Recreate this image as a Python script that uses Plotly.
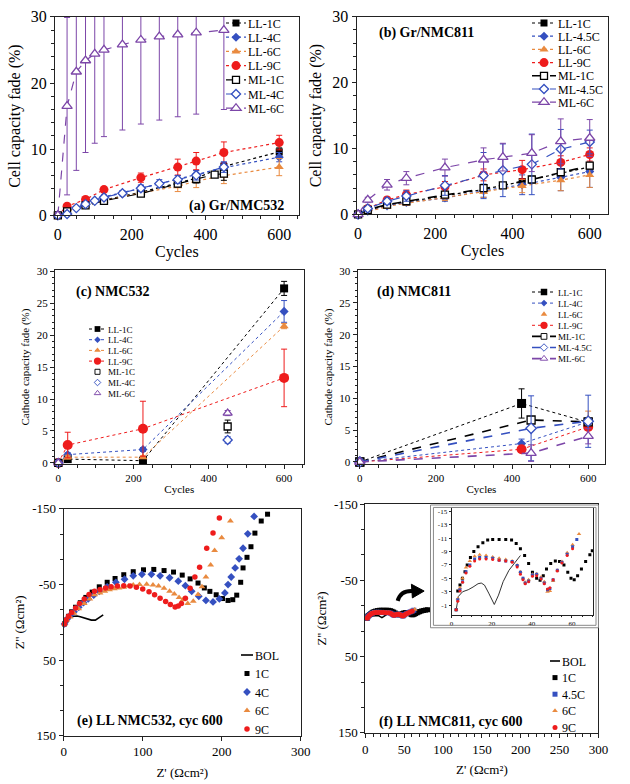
import plotly.graph_objects as go

W, H = 630, 784
SERIF = "Liberation Serif"

BLACK = "#000000"
BLUE = "#3550c0"
ORANGE = "#e98a3f"
RED = "#ee1c1c"
PURPLE = "#7c46a8"

# ---------------- (a) Gr/NMC532 : cell capacity fade (%) ----------------
a_cyc_LL = [0, 25, 75, 125, 225, 325, 375, 450, 600]
a_LL_1C = [0, 0.7, 1.6, 2.3, 3.5, 4.9, 5.6, 7.4, 9.6]
a_LL_1C_err = [0, 0.2, 0.2, 0.3, 0.4, 0.5, 0.5, 0.6, 0.6]
a_LL_4C = [0, 0.8, 1.7, 2.8, 4.1, 5.5, 6.2, 7.2, 8.8]
a_LL_4C_err = [0, 0.2, 0.2, 0.3, 0.4, 0.5, 0.6, 0.8, 0.7]
a_LL_6C = [0, 0.6, 1.5, 2.2, 3.4, 4.4, 5.2, 6.0, 7.3]
a_LL_6C_err = [0, 0.2, 0.2, 0.3, 0.5, 0.8, 1.0, 1.2, 1.3]
a_LL_9C = [0, 1.4, 2.4, 3.9, 5.7, 7.3, 8.2, 9.5, 11.0]
a_LL_9C_err = [0, 0.3, 0.3, 0.4, 0.7, 1.2, 1.3, 1.6, 1.1]
a_cyc_ML1 = [0, 25, 75, 125, 225, 325, 375, 425, 450]
a_ML_1C = [0, 0.6, 1.5, 2.2, 3.3, 4.8, 5.5, 6.15, 6.3]
a_ML_1C_err = [0, 0.1, 0.2, 0.2, 0.4, 0.5, 0.6, 0.3, 1.0]
a_cyc_ML = [0, 25, 50, 75, 100, 125, 175, 225, 275, 325, 375, 450]
a_ML_4C = [0, 0.2, 1.1, 1.7, 2.2, 2.7, 3.35, 4.1, 4.8, 5.4, 6.05, 7.3]
a_ML_4C_err = [0, 0.1, 0.2, 0.2, 0.2, 0.3, 0.4, 0.5, 0.6, 0.6, 0.7, 0.8]
a_ML_6C = [0, 16.5, 21.7, 23.4, 24.4, 25.0, 25.8, 26.5, 27.0, 27.3, 27.6, 28.0]
a_ML_6C_err = [0, 13.4, 14.9, 13.9, 13.5, 13.1, 12.9, 12.7, 12.6, 12.4, 12.3, 12.0]

# ---------------- (b) Gr/NMC811 : cell capacity fade (%) ----------------
b_cyc_LL = [0, 25, 75, 125, 225, 325, 425, 525, 600]
b_LL_1C = [0, 0.6, 1.4, 1.9, 2.9, 3.8, 5.0, 6.2, 7.2]
b_LL_1C_err = [0, 0.1, 0.2, 0.2, 0.3, 0.4, 0.4, 0.5, 0.6]
b_LL_45C = [0, 0.5, 1.3, 1.8, 2.5, 3.6, 4.5, 5.6, 6.5]
b_LL_45C_err = [0, 0.2, 0.3, 0.4, 0.5, 1.0, 1.5, 2.0, 2.4]
b_LL_6C = [0, 0.4, 1.2, 1.7, 2.6, 3.4, 4.3, 5.2, 6.0]
b_LL_6C_err = [0, 0.2, 0.3, 0.3, 0.5, 0.8, 1.0, 1.6, 1.9]
b_LL_9C = [0, 0.9, 2.2, 3.0, 4.2, 6.0, 6.8, 7.9, 9.1]
b_LL_9C_err = [0, 0.2, 0.4, 0.7, 0.8, 0.9, 1.4, 1.0, 1.0]
b_cyc_ML = [0, 25, 75, 125, 225, 325, 375, 450, 525, 600]
b_ML_1C = [0, 0.7, 1.5, 2.0, 3.0, 4.0, 4.4, 5.3, 6.4, 7.4]
b_ML_1C_err = [0, 0.1, 0.2, 0.2, 0.3, 0.4, 0.4, 0.5, 0.5, 0.5]
b_ML_45C = [0, 0.9, 2.0, 2.8, 4.4, 5.9, 6.7, 7.6, 9.9, 11.0]
b_ML_45C_err = [0, 0.3, 0.5, 0.8, 1.5, 3.5, 4.0, 4.6, 3.0, 1.8]
b_ML_6C = [0, 2.2, 4.5, 5.5, 7.1, 8.3, 8.7, 9.3, 11.1, 11.6]
b_ML_6C_err = [0, 0.4, 0.8, 1.0, 1.3, 1.8, 2.1, 2.8, 3.4, 2.8]

# ---------------- (c) NMC532 : cathode capacity fade (%) ----------------
c_cyc_LL = [0, 25, 225, 600]
c_LL_1C = [0, 0.6, 0.35, 27.3]
c_LL_1C_err = [0, 0.2, 0.1, 1.1]
c_LL_4C = [0, 1.3, 2.1, 23.7]
c_LL_4C_err = [0, 0.3, 0.3, 1.7]
c_LL_6C = [0, 0.9, 0.9, 21.4]
c_LL_6C_err = [0, 0.3, 0.2, 0.4]
c_LL_9C = [0, 2.8, 5.35, 13.3]
c_LL_9C_err = [0, 2.0, 4.3, 4.5]
c_cyc_ML = [0, 450]
c_ML_1C = [0, 5.7]
c_ML_1C_err = [0, 1.0]
c_ML_4C = [0, 3.6]
c_ML_4C_err = [0, 0.5]
c_ML_6C = [0, 7.8]
c_ML_6C_err = [0, 0.4]

# ---------------- (d) NMC811 : cathode capacity fade (%) ----------------
d_cyc_LL = [0, 425, 600]
d_LL_1C = [0, 9.2, 6.25]
d_LL_1C_err = [0, 2.3, 0.5]
d_LL_4C = [0, 2.9, 6.3]
d_LL_4C_err = [0, 0.7, 0.6]
d_cyc_LL6 = [0, 600]
d_LL_6C = [0, 6.8]
d_LL_6C_err = [0, 1.2]
d_LL_9C = [0, 2.0, 5.5]
d_LL_9C_err = [0, 0.3, 0.4]
d_cyc_ML = [0, 450, 600]
d_ML_1C = [0, 6.6, 6.3]
d_ML_1C_err = [0, 0.3, 0.3]
d_ML_45C = [0, 5.3, 6.4]
d_ML_45C_err = [0, 5.1, 4.1]
d_ML_6C = [0, 1.4, 4.05]
d_ML_6C_err = [0, 1.3, 1.2]

# ---------------- (e) LL NMC532, cyc 600 : Nyquist ----------------
e_BOL_re = [1, 3, 6, 9, 13, 17, 21, 26, 31, 35, 40, 44, 47, 50]
e_BOL_im = [2, -2, -5, -7, -8, -8.5, -7.5, -6, -4, -3, -3, -5.5, -8, -10]
e_1C_re = [1, 3, 6, 10, 15, 21, 28, 36, 45, 55, 65, 76, 88, 101, 114, 127, 139,
           150, 160, 170, 178, 185, 193, 201, 208, 214, 219, 224, 227, 232, 237,
           242, 250, 258]
e_1C_im = [2, -3, -8, -14, -20, -26, -33, -40, -47, -53, -58, -63, -67, -69.5, -70,
           -68.5, -66.5, -62.5, -57.5, -52, -45.5, -41, -36.5, -31.5, -29, -30, -36,
           -53, -72, -86, -100, -118, -134, -143]
e_4C_re = [1, 4, 8, 13, 19, 25, 31, 38, 45, 55, 66, 77, 88, 99, 111, 122, 134, 145,
           154, 162, 171, 180, 189, 197, 204, 208, 212, 217, 222, 227, 233, 241]
e_4C_im = [2, -4, -9, -14, -20, -26, -31, -36, -41, -47, -53, -57, -61.5, -63.5,
           -63.5, -61.5, -59, -54.5, -48.5, -41, -34.5, -29, -27, -31, -39, -50, -60,
           -72, -84, -98, -117, -140]
e_6C_re = [1, 4, 8, 13, 19, 26, 33, 39, 46, 52, 58, 64, 70, 76, 82, 88, 96, 105, 113,
           120, 127, 134, 140, 146, 151, 157, 164, 170, 175, 180, 186, 191, 200, 211]
e_6C_im = [2, -3, -7, -12, -18, -25, -31, -36.5, -39, -41, -43, -44.5, -45.5, -46.5,
           -48, -49.5, -50, -50.5, -49.5, -48, -45, -41, -37.5, -33, -30, -25, -28,
           -37, -47, -60, -76, -95, -112, -134]
e_9C_re = [1, 3, 6, 10, 15, 20, 26, 32, 39, 46, 53, 60, 68, 76, 84, 92, 100, 108,
           115, 122, 129, 135, 141, 145, 149, 154, 160, 166, 172, 181, 189, 197]
e_9C_im = [2, -3, -8, -13, -19, -25, -31, -37, -41, -43.5, -45.5, -47, -48, -48.3,
           -48, -46.5, -44, -40.5, -36.5, -32, -27.5, -23.5, -20.5, -21.5, -25, -32,
           -45, -60, -73, -98, -118, -138]

# ---------------- (f) LL NMC811, cyc 600 : Nyquist ----------------
f_BOL_re = [2.3, 3.4, 5.5, 8.3, 10.7, 13.2, 14.8, 16.4, 18.5, 21.3, 23.4, 25.7, 28.6,
            31.5, 34.3]
f_BOL_im = [-0.3, -2.3, -3.0, -3.3, -3.7, -4.2, -4.3, -4.0, -2.8, -1.1, -2.5, -4.5,
            -6.2, -7.4, -8.4]
f_1C_re = [2.3, 3.1, 4.2, 5.4, 6.7, 7.8, 9.4, 11.1, 13.2, 15.6, 18.0, 20.5, 23.7, 27.0,
           29.9, 32.2, 34.3, 36.4, 38.4, 40.3, 42.4, 44.1, 45.7, 47.3, 49.4, 51.7, 53.8,
           56.0, 57.9, 59.5, 61.1, 62.8, 64.7, 66.8, 68.9, 70.1, 72.5, 75.0, 77.5, 80.0]
f_1C_im = [-0.3, -3.1, -4.0, -5.0, -6.0, -7.0, -8.1, -9.0, -9.7, -10.3, -10.7, -10.8,
           -10.8, -10.8, -10.7, -10.2, -9.4, -8.4, -7.2, -5.9, -5.0, -4.7, -5.4, -6.4,
           -7.2, -7.6, -7.5, -7.0, -5.9, -5.0, -4.8, -5.4, -6.4, -7.5, -8.5, -9.1, -9.9,
           -10.5, -11.0, -11.4]
f_45C_re = [2.3, 3.1, 4.2, 5.5, 7.2, 9.1, 11.5, 14.0, 17.2, 20.5, 23.7, 27.0, 30.2,
            32.7, 34.3, 35.6, 36.7, 38.4, 40.3, 42.4, 44.6, 46.2, 47.8, 49.0, 50.6,
            52.7, 55.0, 57.6, 60.3, 62.4]
f_45C_im = [-0.3, -1.8, -3.3, -4.5, -6.0, -7.0, -7.9, -8.1, -8.1, -8.0, -7.7, -7.6,
            -7.5, -6.9, -5.9, -5.0, -4.3, -4.6, -5.5, -5.6, -5.0, -4.3, -3.3, -3.5,
            -4.8, -6.2, -7.4, -8.6, -9.7, -10.8]
f_6C_re = [2.3, 3.1, 4.2, 5.5, 7.2, 9.1, 11.5, 14.0, 17.2, 20.5, 23.7, 27.0, 30.2,
           32.7, 34.3, 35.6, 36.7, 38.4, 40.3, 42.4, 44.6, 46.2, 47.8, 49.0, 50.6,
           52.7, 55.0, 57.6, 60.3, 63.5]
f_6C_im = [-0.3, -2.0, -3.6, -5.0, -6.6, -7.6, -8.3, -8.5, -8.4, -8.2, -8.0, -7.8,
           -7.6, -7.0, -6.0, -5.0, -4.4, -4.8, -5.6, -5.7, -5.2, -4.5, -3.0, -3.1,
           -4.6, -6.2, -7.5, -8.8, -10.0, -11.6]
f_9C_re = [2.3, 3.1, 4.2, 5.5, 7.2, 9.1, 11.5, 14.0, 17.2, 20.5, 23.7, 27.0, 30.2,
           32.7, 34.3, 35.6, 36.7, 38.4, 40.3, 42.4, 44.6, 46.2, 47.8, 49.0, 50.6,
           52.7, 55.0, 57.6, 60.3]
f_9C_im = [-0.3, -1.6, -3.1, -4.4, -5.8, -6.8, -7.6, -7.9, -7.9, -7.8, -7.7, -7.6,
           -7.4, -6.7, -5.6, -4.8, -4.2, -4.5, -5.3, -5.4, -4.9, -4.2, -3.4, -3.6,
           -4.8, -6.1, -7.3, -8.4, -9.4]

# tick labels
nyq_y_ticks = [-150, -50, 50, 150]
nyq_y_text = ["-150", "-50", "50", "150"]
inset_y_ticks = [-15, -13, -11, -9, -7, -5, -3, -1]
inset_y_text = ["-15", "-13", "-11", "-9", "-7", "-5", "-3", "-1"]

fig = go.Figure()


def px_x(px):
    return px / W


def px_y(py):
    return 1 - py / H


def add(n, x, y, name, color, symbol, size, dash=None, err=None, legend="legend",
        open_=False, mode="lines+markers", lw=1.2, clip=False, showlegend=True):
    ax = "" if n == 1 else str(n)
    marker = dict(symbol=symbol, size=size,
                  color="white" if open_ else color,
                  line=dict(color=color, width=1.3 if open_ else 0))
    kw = dict(x=x, y=y, name=name, mode=mode, marker=marker,
              line=dict(color=color, dash=dash, width=lw),
              xaxis="x" + ax, yaxis="y" + ax, legend=legend,
              showlegend=showlegend, cliponaxis=clip)
    if err is not None:
        kw["error_y"] = dict(type="data", array=err, color=color, thickness=1,
                             width=3, visible=True)
    fig.add_trace(go.Scatter(**kw))


# (a)
add(1, a_cyc_LL, a_LL_1C, "LL-1C", BLACK, "square", 7, "dot", a_LL_1C_err)
add(1, a_cyc_LL, a_LL_4C, "LL-4C", BLUE, "diamond", 7, "dot", a_LL_4C_err)
add(1, a_cyc_LL, a_LL_6C, "LL-6C", ORANGE, "triangle-up", 8, "dot", a_LL_6C_err)
add(1, a_cyc_LL, a_LL_9C, "LL-9C", RED, "circle", 9, "dot", a_LL_9C_err)
add(1, a_cyc_ML1, a_ML_1C, "ML-1C", BLACK, "square", 7, "dash", a_ML_1C_err, open_=True)
add(1, a_cyc_ML, a_ML_4C, "ML-4C", BLUE, "diamond", 7, "dash", a_ML_4C_err, open_=True)
add(1, a_cyc_ML, a_ML_6C, "ML-6C", PURPLE, "triangle-up", 9, "dash", a_ML_6C_err,
    open_=True, clip=True)

# (b)
add(2, b_cyc_LL, b_LL_1C, "LL-1C", BLACK, "square", 7, "dot", b_LL_1C_err, "legend2")
add(2, b_cyc_LL, b_LL_45C, "LL-4.5C", BLUE, "diamond", 7, "dot", b_LL_45C_err, "legend2")
add(2, b_cyc_LL, b_LL_6C, "LL-6C", ORANGE, "triangle-up", 8, "dot", b_LL_6C_err, "legend2")
add(2, b_cyc_LL, b_LL_9C, "LL-9C", RED, "circle", 9, "dot", b_LL_9C_err, "legend2")
add(2, b_cyc_ML, b_ML_1C, "ML-1C", BLACK, "square", 7, "dash", b_ML_1C_err, "legend2",
    open_=True, lw=1.6)
add(2, b_cyc_ML, b_ML_45C, "ML-4.5C", BLUE, "diamond", 7, "dash", b_ML_45C_err, "legend2",
    open_=True)
add(2, b_cyc_ML, b_ML_6C, "ML-6C", PURPLE, "triangle-up", 9, "dash", b_ML_6C_err, "legend2",
    open_=True)

# (c)
add(3, c_cyc_LL, c_LL_1C, "LL-1C", BLACK, "square", 8, "dot", c_LL_1C_err, "legend3", lw=1)
add(3, c_cyc_LL, c_LL_4C, "LL-4C", BLUE, "diamond", 7, "dot", c_LL_4C_err, "legend3", lw=1)
add(3, c_cyc_LL, c_LL_6C, "LL-6C", ORANGE, "triangle-up", 8, "dot", c_LL_6C_err, "legend3", lw=1)
add(3, c_cyc_LL, c_LL_9C, "LL-9C", RED, "circle", 10, "dot", c_LL_9C_err, "legend3", lw=1)
add(3, c_cyc_ML, c_ML_1C, "ML-1C", BLACK, "square", 7, None, c_ML_1C_err, "legend3",
    open_=True, mode="markers")
add(3, c_cyc_ML, c_ML_4C, "ML-4C", BLUE, "diamond", 7, None, c_ML_4C_err, "legend3",
    open_=True, mode="markers")
add(3, c_cyc_ML, c_ML_6C, "ML-6C", PURPLE, "triangle-up", 8, None, c_ML_6C_err, "legend3",
    open_=True, mode="markers")

# (d)
add(4, d_cyc_LL, d_LL_1C, "LL-1C", BLACK, "square", 9, "dot", d_LL_1C_err, "legend4", lw=1)
add(4, d_cyc_LL, d_LL_4C, "LL-4C", BLUE, "diamond", 7, "dot", d_LL_4C_err, "legend4", lw=1)
add(4, d_cyc_LL6, d_LL_6C, "LL-6C", ORANGE, "triangle-up", 8, None, d_LL_6C_err, "legend4",
    mode="markers")
add(4, d_cyc_LL, d_LL_9C, "LL-9C", RED, "circle", 10, "dot", d_LL_9C_err, "legend4", lw=1)
add(4, d_cyc_ML, d_ML_1C, "ML-1C", BLACK, "square", 8, "dash", d_ML_1C_err, "legend4",
    open_=True, lw=1.6)
add(4, d_cyc_ML, d_ML_45C, "ML-4.5C", BLUE, "diamond", 8, "dash", d_ML_45C_err, "legend4",
    open_=True, lw=1.6)
add(4, d_cyc_ML, d_ML_6C, "ML-6C", PURPLE, "triangle-up", 9, "dash", d_ML_6C_err, "legend4",
    open_=True, lw=1.6)

# (e)
add(5, e_BOL_re, e_BOL_im, "BOL", BLACK, "circle", 1, "solid", None, "legend5",
    mode="lines", lw=1.6)
add(5, e_1C_re, e_1C_im, "1C", BLACK, "square", 5, None, None, "legend5", mode="markers")
add(5, e_4C_re, e_4C_im, "4C", BLUE, "diamond", 6, None, None, "legend5", mode="markers")
add(5, e_6C_re, e_6C_im, "6C", ORANGE, "triangle-up", 6, None, None, "legend5", mode="markers")
add(5, e_9C_re, e_9C_im, "9C", RED, "circle", 5.5, None, None, "legend5", mode="markers")

# (f) main
add(6, f_BOL_re, f_BOL_im, "BOL", BLACK, "circle", 1, "solid", None, "legend6",
    mode="lines", lw=1.6)
add(6, f_1C_re, f_1C_im, "1C", BLACK, "square", 5, None, None, "legend6", mode="markers")
add(6, f_45C_re, f_45C_im, "4.5C", BLUE, "square", 5, None, None, "legend6", mode="markers")
add(6, f_6C_re, f_6C_im, "6C", ORANGE, "triangle-up", 5, None, None, "legend6", mode="markers")
add(6, f_9C_re, f_9C_im, "9C", RED, "circle", 5, None, None, "legend6", mode="markers")

# (f) inset
add(7, f_BOL_re, f_BOL_im, "BOL", "#333333", "circle", 1, "solid", None, mode="lines",
    lw=1, showlegend=False, clip=True)
add(7, f_1C_re, f_1C_im, "1C", BLACK, "square", 3, None, None, mode="markers",
    showlegend=False, clip=True)
add(7, f_6C_re, f_6C_im, "6C", ORANGE, "triangle-up", 4, None, None, mode="markers",
    showlegend=False, clip=True)
add(7, f_45C_re, f_45C_im, "4.5C", BLUE, "square", 3, None, None, mode="markers",
    showlegend=False, clip=True)
add(7, f_9C_re, f_9C_im, "9C", RED, "circle", 3, None, None, mode="markers",
    showlegend=False, clip=True)


def axis(box_lo, box_hi, rng, anchor, horizontal, fs, **extra):
    dom = [px_x(box_lo), px_x(box_hi)] if horizontal else [px_y(box_hi), px_y(box_lo)]
    d = dict(domain=dom, range=rng, anchor=anchor, showline=True, mirror=True,
             linecolor="#222222", linewidth=1, showgrid=False, zeroline=False,
             ticks="outside", ticklen=4, tickcolor="#222222",
             tickfont=dict(family=SERIF, size=fs, color="black"))
    d.update(extra)
    return d


def title(text, size, standoff):
    return dict(text=text, font=dict(family=SERIF, size=size, color="black"),
                standoff=standoff)


minor50 = dict(ticks="outside", ticklen=3, dtick=50, tick0=0, tickcolor="#222222")

fig.update_layout(
    xaxis=axis(53, 302, [-8, 653], "y", True, 16, tick0=0, dtick=200, minor=minor50,
               title=title("Cycles", 16, 2)),
    yaxis=axis(9, 212, [0, 30], "x", False, 16, tick0=0, dtick=10,
               minor=dict(ticks="outside", ticklen=3, dtick=2, tickcolor="#222222"),
               title=title("Cell capacity fade (%)", 16, 6)),
    xaxis2=axis(361, 618, [-4, 648], "y2", True, 16, tick0=0, dtick=200, minor=minor50,
                title=title("Cycles", 16, 2)),
    yaxis2=axis(9, 211, [0, 30], "x2", False, 16, tick0=0, dtick=10,
                minor=dict(ticks="outside", ticklen=3, dtick=2, tickcolor="#222222"),
                title=title("Cell capacity fade (%)", 16, 6)),
    xaxis3=axis(53, 307, [-9, 652], "y3", True, 11, tick0=0, dtick=200, minor=minor50,
                title=title("Cycles", 11, 2)),
    yaxis3=axis(268, 466, [-0.15, 30.15], "x3", False, 11, tick0=0, dtick=5,
                minor=dict(ticks="outside", ticklen=2, dtick=1, tickcolor="#222222"),
                title=title("Cathode capacity fade (%)", 11, 4)),
    xaxis4=axis(362, 615, [-6, 645], "y4", True, 11, tick0=0, dtick=200, minor=minor50,
                title=title("Cycles", 11, 2)),
    yaxis4=axis(268, 466, [-0.3, 30.15], "x4", False, 11, tick0=0, dtick=5,
                minor=dict(ticks="outside", ticklen=2, dtick=1, tickcolor="#222222"),
                title=title("Cathode capacity fade (%)", 11, 4)),
    xaxis5=axis(62, 304, [0, 300], "y5", True, 13, tick0=0, dtick=100,
                title=title("Z' (Ωcm²)", 13, 9)),
    yaxis5=axis(512, 744, [150, -150], "x5", False, 13, tickmode="array",
                tickvals=nyq_y_ticks, ticktext=nyq_y_text,
                minor=dict(ticks="outside", ticklen=3, tick0=-150, dtick=100 / 3,
                           tickcolor="#222222"),
                title=title("Z'' (Ωcm²)", 13, 4)),
    xaxis6=axis(370, 608, [0, 300], "y6", True, 13, tick0=0, dtick=50,
                minor=dict(ticks="outside", ticklen=3, dtick=10, tickcolor="#222222"),
                title=title("Z' (Ωcm²)", 13, 9)),
    yaxis6=axis(507, 741, [150, -150], "x6", False, 13, tickmode="array",
                tickvals=nyq_y_ticks, ticktext=nyq_y_text,
                minor=dict(ticks="outside", ticklen=3, tick0=-150, dtick=100 / 3,
                           tickcolor="#222222"),
                title=title("Z'' (Ωcm²)", 13, 4)),
    xaxis7=axis(458, 602.5, [0, 70.5], "y7", True, 7, tick0=0, dtick=20, ticklen=2,
                minor=dict(ticks="outside", ticklen=1.5, dtick=5, tickcolor="#222222")),
    yaxis7=axis(511, 620, [0.4, -15.5], "x7", False, 7, tickmode="array",
                tickvals=inset_y_ticks, ticktext=inset_y_text, ticklen=2),
)

leg_common = dict(xanchor="left", yanchor="top", bgcolor="rgba(0,0,0,0)",
                  itemwidth=30, borderwidth=0)
fig.update_layout(
    legend=dict(x=px_x(207), y=px_y(12), font=dict(family=SERIF, size=12, color="black"),
                **leg_common),
    legend2=dict(x=px_x(510), y=px_y(12), font=dict(family=SERIF, size=12, color="black"),
                 **leg_common),
    legend3=dict(x=px_x(68), y=px_y(318), font=dict(family=SERIF, size=9, color="black"),
                 **leg_common),
    legend4=dict(x=px_x(510), y=px_y(282), font=dict(family=SERIF, size=9, color="black"),
                 **leg_common),
    legend5=dict(x=px_x(215), y=px_y(644), font=dict(family=SERIF, size=12, color="black"),
                 **leg_common),
    legend6=dict(x=px_x(515), y=px_y(649), font=dict(family=SERIF, size=12, color="black"),
                 **leg_common),
)


def label(text, x, y, anchor="left", size=14):
    fig.add_annotation(text="<b>" + text + "</b>", x=px_x(x), y=px_y(y), xref="paper",
                       yref="paper", xanchor=anchor, yanchor="middle", showarrow=False,
                       font=dict(family=SERIF, size=size, color="black"))


label("(a) Gr/NMC532", 289, 202, anchor="right")
label("(b) Gr/NMC811", 382, 26)
label("(c) NMC532", 72, 290)
label("(d) NMC811", 380, 290)
label("(e) LL NMC532, cyc 600", 74, 729)
label("(f) LL NMC811, cyc 600", 382, 730)


def ppath(points, close=False):
    s = "M " + " L ".join(f"{px_x(x):.5f},{px_y(y):.5f}" for x, y in points)
    return s + (" Z" if close else "")


# inset frames
fig.add_shape(type="rect", xref="paper", yref="paper", x0=px_x(436.5), x1=px_x(608),
              y0=px_y(633.5), y1=px_y(508), line=dict(color="#8a8a8a", width=1))
fig.add_shape(type="rect", xref="paper", yref="paper", x0=px_x(439.5), x1=px_x(605.5),
              y0=px_y(631), y1=px_y(510.5), line=dict(color="#8a8a8a", width=1))
# curved arrow pointing to inset
fig.add_shape(type="path", xref="paper", yref="paper",
              path=(f"M {px_x(403):.5f},{px_y(606):.5f} Q {px_x(406):.5f},{px_y(595):.5f} "
                    f"{px_x(419):.5f},{px_y(596):.5f}"),
              line=dict(color="black", width=4))
fig.add_shape(type="path", xref="paper", yref="paper",
              path=ppath([(417, 589), (430, 596), (418, 603)], close=True),
              fillcolor="black", line=dict(color="black", width=1))

fig.update_layout(width=W, height=H, margin=dict(l=0, r=0, t=0, b=0),
                  paper_bgcolor="white", plot_bgcolor="white",
                  font=dict(family=SERIF, color="black"))

# legend layout as in the reference:
# [text start x, first-row centre y, row pitch, sample length, symbol scale] in px
post_js = r"""
document.body.style.margin = '0px';
var cfg = {legend: [248, 23, 14.2, 20, 1], legend2: [558, 23, 13.2, 24, 1],
           legend3: [108, 329, 10.7, 17, 0.72], legend4: [558, 292, 11.1, 24, 0.72],
           legend5: [255, 655, 18.5, 12, 1], legend6: [562, 661, 16.6, 10, 1]};
var re = /translate\(\s*([-0-9.e]+)[ ,]+([-0-9.e]+)/;
Object.keys(cfg).forEach(function(k) {
  var c = cfg[k];
  var lg = document.querySelector('g.infolayer g.' + k);
  if (!lg) return;
  var m = (lg.getAttribute('transform') || '').match(re);
  var ly = m ? parseFloat(m[2]) : 0;
  lg.setAttribute('transform', 'translate(' + (c[0] - 40) + ',' + ly + ')');
  var sb = lg.querySelector('g.scrollbox');
  if (sb) sb.removeAttribute('clip-path');
  lg.querySelectorAll('g.traces').forEach(function(it, i) {
    var t = (it.getAttribute('transform') || '').match(re);
    var x = t ? parseFloat(t[1]) : 0;
    it.setAttribute('transform',
      'translate(' + x + ',' + (c[1] + i * c[2] - ly) + ')');
    it.querySelectorAll('g.legendlines path').forEach(function(p) {
      p.setAttribute('d', 'M' + (38 - c[3]) + ',0h' + c[3]);
    });
    it.querySelectorAll('g.legendpoints path.scatterpts').forEach(function(p) {
      p.setAttribute('transform',
        'translate(' + (38 - c[3] / 2) + ',0) scale(' + c[4] + ')');
    });
  });
});
"""

fig.write_html("out.html", config={"displayModeBar": False}, post_script=post_js)
